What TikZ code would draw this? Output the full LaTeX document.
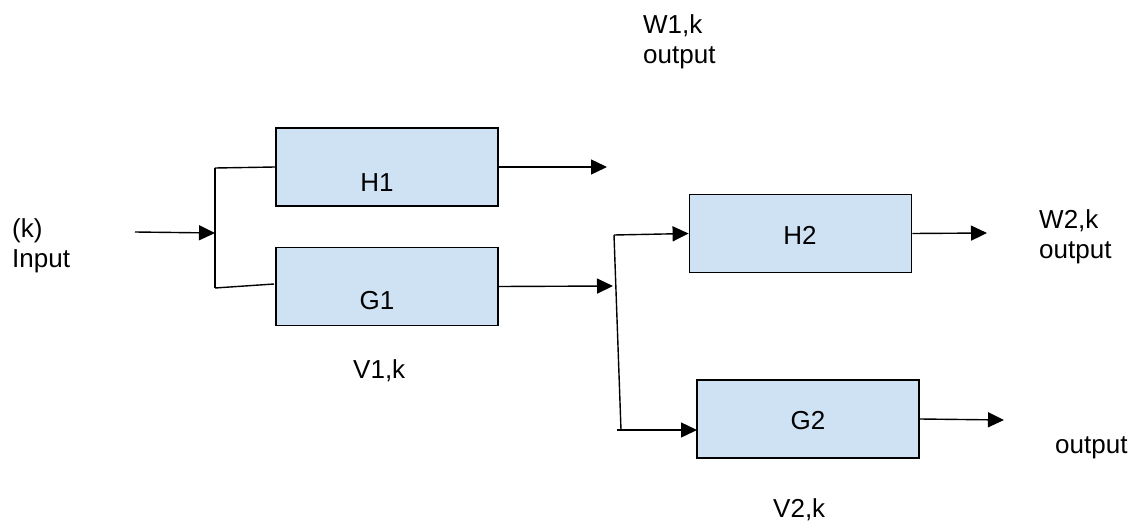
\documentclass[tikz,border=0pt]{standalone}
\usepackage{fontspec}
\setmainfont{Liberation Sans}
\usetikzlibrary{arrows.meta}
\definecolor{boxfill}{HTML}{CFE2F3}
\begin{document}
\begin{tikzpicture}[x=1pt,y=-1pt,
  block/.style={draw=black,line width=1.8pt,fill=boxfill,minimum width=222pt,minimum height=78pt,inner sep=0pt},
  wire/.style={line width=1.4pt,draw=black},
  flow/.style={wire,-{Triangle[length=16pt,width=15pt]}},
  txt/.style={inner sep=0pt,anchor=base west,align=left,font=\fontsize{26}{30}\selectfont},
  ctxt/.style={inner sep=0pt,anchor=base,font=\fontsize{26}{30}\selectfont}]
\useasboundingbox (0,0) rectangle (1136,522);
\fill[white] (0,0) rectangle (1136,522);

% blocks
\node[block] (H1) at (387,167) {};
\node[block] (G1) at (387,286.5) {};
\node[block] (H2) at (800.5,233.5) {};
\node[block] (G2) at (808,419) {};

% block labels
\node[ctxt] (H1t) at (377,191) {H1};
\node[ctxt] (G1t) at (377,309) {G1};
\node[ctxt] (H2t) at (800,244) {H2};
\node[ctxt] (G2t) at (808,429) {G2};

% free labels (base = last line)
\node[txt] (inl) at (12,267) {(k)\\Input};
\node[txt] (w1l) at (643,63) {W1,k\\output};
\node[txt] (w2l) at (1039,258) {W2,k\\output};
\node[txt] (g2l) at (1055,453) {output};
\node[txt] (v1l) at (353,378) {V1,k};
\node[txt] (v2l) at (773,517) {V2,k};

% junction points
\coordinate (src) at (135,232);
\coordinate (j1) at (215,233);
\coordinate (j1t) at (215,168);
\coordinate (j1b) at (215,288);
\coordinate (g1in) at (274,284);
\coordinate (w1) at (607,167);
\coordinate (v1) at (613,286);
\coordinate (j2t) at (614,235);
\coordinate (j2b) at (621,430);
\coordinate (j2c) at (617,430);
\coordinate (g2in) at (697,430);
\coordinate (w2) at (987,233);
\coordinate (v2) at (1004,420);

% first stage
\draw[flow] (src) -- (j1);
\draw[wire] (j1t) -- (j1b);
\draw[wire] (j1t) -- (H1.west);
\draw[wire] (j1b) -- (g1in);
\draw[flow] (H1.east) -- (w1);
\draw[flow] (G1.east) -- (v1);

% second stage
\draw[wire] (j2t) -- (j2b);
\draw[flow] (j2t) -- (H2.west);
\draw[flow] (j2c) -- (g2in);
\draw[flow] (H2.east) -- (w2);
\draw[flow] (G2.east) -- (v2);
\end{tikzpicture}
\end{document}
